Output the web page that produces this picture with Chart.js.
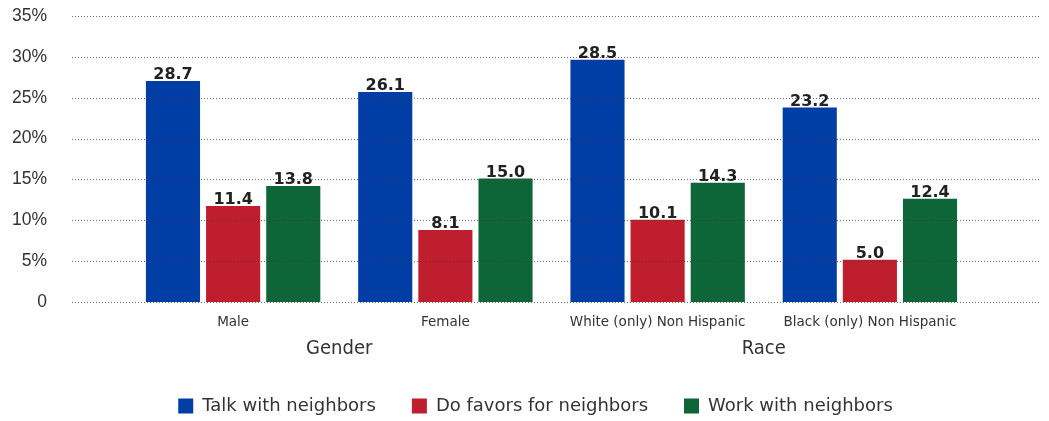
<!DOCTYPE html>
<html>
<head>
<meta charset="utf-8">
<script src="https://cdn.jsdelivr.net/npm/chart.js@4"></script>
<style>
  html, body { margin: 0; padding: 0; background: #fff; overflow: hidden; }
  .chartBox { width: 1049px; height: 425px; }
</style>
</head>
<body>
<div class="chartBox"><canvas id="chart"></canvas></div>
<script>
const categories = ['Male', 'Female', 'White (only) Non Hispanic', 'Black (only) Non Hispanic']
const groups = [
  { name: 'Gender', from: 0, to: 1 },
  { name: 'Race', from: 2, to: 3 }
]
const seriesNames = ['Talk with neighbors', 'Do favors for neighbors', 'Work with neighbors']
// bar heights as drawn in the picture
const talkValues = [27.05, 25.7, 29.65, 23.8]
const favorValues = [11.75, 8.8, 10.07, 5.18]
const workValues = [14.2, 15.1, 14.6, 12.64]
// the printed labels above the bars
const talkLabels = ['28.7', '26.1', '28.5', '23.2']
const favorLabels = ['11.4', '8.1', '10.1', '5.0']
const workLabels = ['13.8', '15.0', '14.3', '12.4']
const yTicks = [0, 5, 10, 15, 20, 25, 30, 35]

const colors = ['#003DA5', '#BE1E2D', '#0E6638']

const valueLabels = {
  id: 'valueLabels',
  afterDatasetsDraw(chart) {
    const ctx = chart.ctx
    ctx.save()
    ctx.font = 'bold 16px "DejaVu Sans", sans-serif'
    ctx.fillStyle = '#222'
    ctx.textAlign = 'center'
    ctx.textBaseline = 'alphabetic'
    chart.data.datasets.forEach((ds, i) => {
      chart.getDatasetMeta(i).data.forEach((bar, j) => {
        ctx.fillText(ds.printed[j], bar.x, bar.y - 2)
      })
    })
    ctx.restore()
  }
}

// dotted grid, drawn on top of the bars and wider than the plot area
const dottedGrid = {
  id: 'dottedGrid',
  afterDatasetsDraw(chart) {
    const ctx = chart.ctx
    const y = chart.scales.y
    const area = chart.chartArea
    ctx.save()
    ctx.strokeStyle = 'rgba(60,60,60,0.75)'
    ctx.lineWidth = 1
    ctx.setLineDash([1, 2])
    y.ticks.forEach(t => {
      const py = Math.round(y.getPixelForValue(t.value)) + 0.5
      ctx.beginPath()
      ctx.moveTo(area.left - 55, py)
      ctx.lineTo(area.right + 64, py)
      ctx.stroke()
    })
    ctx.restore()
  }
}

const groupLabels = {
  id: 'groupLabels',
  afterDraw(chart) {
    const ctx = chart.ctx
    const x = chart.scales.x
    ctx.save()
    ctx.font = '20px "DejaVu Sans Condensed", "DejaVu Sans", sans-serif'
    ctx.fillStyle = '#333'
    ctx.textAlign = 'center'
    ctx.textBaseline = 'middle'
    groups.forEach(g => {
      const cx = (x.getPixelForValue(g.from) + x.getPixelForValue(g.to)) / 2
      ctx.fillText(g.name, cx, chart.chartArea.bottom + 47)
    })
    ctx.restore()
  }
}

// the legend in the picture sits a bit right of the canvas centre
const shiftLegend = {
  id: 'shiftLegend',
  afterLayout(chart) {
    chart.legend.left += 41
    chart.legend.right += 41
  }
}

const config = {
  type: 'bar',
  data: {
    labels: categories,
    datasets: [
      { label: seriesNames[0], data: talkValues, printed: talkLabels, backgroundColor: colors[0] },
      { label: seriesNames[1], data: favorValues, printed: favorLabels, backgroundColor: colors[1] },
      { label: seriesNames[2], data: workValues, printed: workLabels, backgroundColor: colors[2] }
    ]
  },
  options: {
    responsive: true,
    maintainAspectRatio: false,
    animation: false,
    categoryPercentage: 0.85,
    barPercentage: 0.9,
    layout: {
      padding: { left: 13, right: 73, top: 0, bottom: 0 }
    },
    scales: {
      x: {
        grid: { display: false, drawTicks: false },
        border: { display: false },
        ticks: {
          padding: 12,
          color: '#333',
          font: { family: '"DejaVu Sans", sans-serif', size: 13.5 },
          maxRotation: 0,
          autoSkip: false
        },
        afterFit(scale) { scale.height = 59 }
      },
      y: {
        min: 0,
        max: 35,
        afterBuildTicks(scale) { scale.ticks = yTicks.map(v => ({ value: v })) },
        afterFit(scale) {
          scale.width = 114
          scale.paddingTop = 16
          scale.paddingBottom = 0
        },
        grid: { display: false, drawTicks: false },
        border: { display: false },
        ticks: {
          padding: 80,
          color: '#333',
          font: { family: '"Liberation Sans", Arial, sans-serif', size: 17.5 },
          callback: v => (v === 0 ? '0' : v + '%')
        }
      }
    },
    plugins: {
      legend: {
        position: 'bottom',
        labels: {
          boxWidth: 15,
          boxHeight: 15,
          padding: 36,
          color: '#333',
          font: { family: '"DejaVu Sans", sans-serif', size: 18 }
        }
      },
      tooltip: { enabled: false }
    }
  },
  plugins: [dottedGrid, valueLabels, groupLabels, shiftLegend]
}

new Chart(document.getElementById('chart').getContext('2d'), config)
</script>
</body>
</html>
